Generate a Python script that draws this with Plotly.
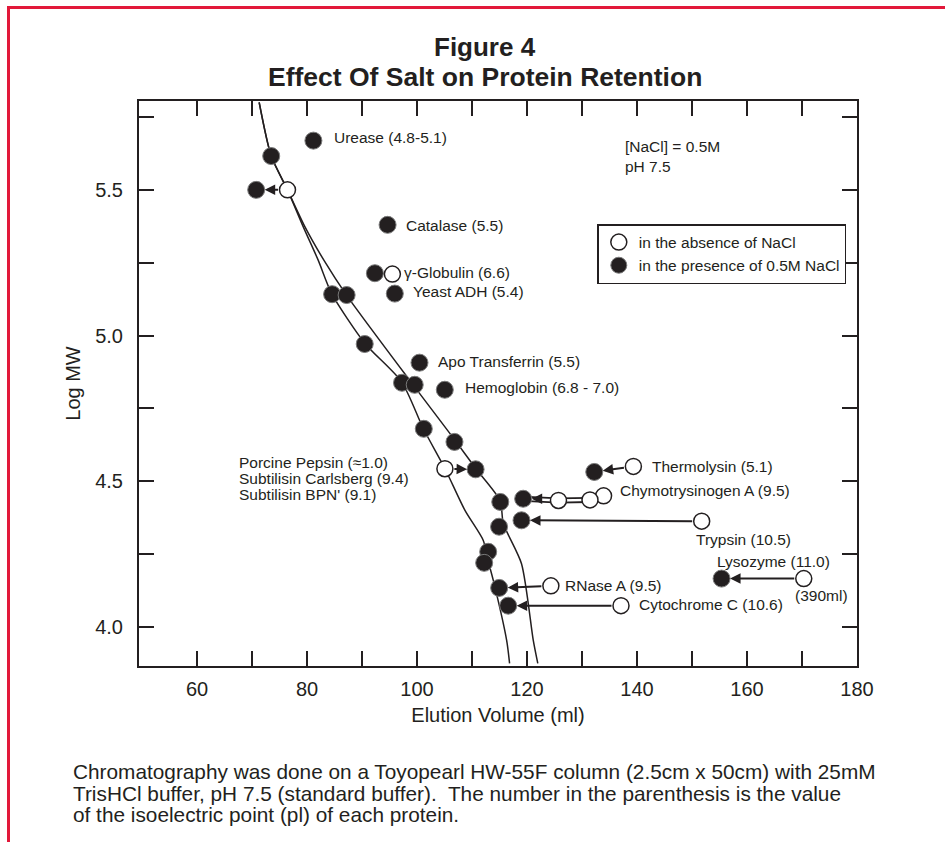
import plotly.graph_objects as go

# ---------------- data ----------------
# Filled circles: in the presence of 0.5M NaCl  (elution volume ml, log MW)
filled_x = [73.49, 70.76, 81.16, 94.65, 92.34, 95.96, 84.56, 87.20, 90.49, 100.45,
            97.27, 99.58, 105.05, 101.23, 106.81, 110.65, 115.14, 119.30, 132.23, 114.92,
            119.00, 112.94, 112.21, 114.94, 116.58, 155.38]
filled_y = [5.616, 5.500, 5.669, 5.380, 5.214, 5.144, 5.142, 5.139, 4.971, 4.907,
            4.838, 4.831, 4.814, 4.680, 4.635, 4.541, 4.429, 4.440, 4.532, 4.344,
            4.366, 4.258, 4.220, 4.134, 4.073, 4.166]

# Open circles: in the absence of NaCl
open_x = [76.45, 95.52, 105.07, 139.34, 125.72, 133.92, 131.45, 151.76, 124.34, 137.09, 170.32]
open_y = [5.500, 5.211, 4.543, 4.551, 4.434, 4.450, 4.436, 4.363, 4.141, 4.073, 4.166]

# Arrows from an open circle (absence) to its filled circle (presence)
arrow_open_idx = [0, 2, 3, 7, 8, 9, 10]
arrow_filled_idx = [1, 15, 18, 20, 23, 24, 25]
# Chymotrysinogen A: double-line chain open -> open -> filled
chymo_open_chain = [6, 4]
chymo_filled_idx = 17

# Calibration curves
left_x = [71.3, 73.49, 76.45, 79.32, 82.05, 84.49, 90.54, 97.21, 101.14, 105.09,
          108.72, 112.05, 112.9, 113.87, 116.3, 116.83]
left_y = [5.800, 5.616, 5.500, 5.373, 5.258, 5.144, 4.973, 4.841, 4.681, 4.543,
          4.400, 4.297, 4.229, 4.160, 3.954, 3.875]
right_x = [71.3, 73.49, 76.45, 79.63, 83.09, 87.21, 99.32, 106.9, 110.72, 115.09,
           115.7, 119.0, 121.14, 121.96]
right_y = [5.800, 5.616, 5.500, 5.373, 5.258, 5.138, 4.830, 4.641, 4.543, 4.434,
           4.355, 4.217, 3.954, 3.875]

# Axis ticks
x_tickvals = [60, 70, 80, 90, 100, 110, 120, 130, 140, 150, 160, 170, 180]
x_ticktext = ["60", "", "80", "", "100", "", "120", "", "140", "", "160", "", "180"]
y_tickvals = [4.0, 4.25, 4.5, 4.75, 5.0, 5.25, 5.5, 5.75]
y_ticktext = ["4.0", "", "4.5", "", "5.0", "", "5.5", ""]

# Protein labels
label_text = ["Urease (4.8-5.1)", "Catalase (5.5)", "γ-Globulin (6.6)", "Yeast ADH (5.4)",
              "Apo Transferrin (5.5)", "Hemoglobin (6.8 - 7.0)",
              "Porcine Pepsin (≈1.0)", "Subtilisin Carlsberg (9.4)", "Subtilisin BPN' (9.1)",
              "Thermolysin (5.1)", "Chymotrysinogen A (9.5)", "Trypsin (10.5)",
              "Lysozyme (11.0)", "(390ml)", "RNase A (9.5)", "Cytochrome C (10.6)",
              "[NaCl] = 0.5M<br>pH 7.5"]

# ---------------- layout constants ----------------
FONT = "Liberation Sans, Arial, Helvetica, sans-serif"
INK = "#231f20"
label_pos = [(84.49, 5.680), (97.69, 5.378), (97.21, 5.218), (98.90, 5.152),
             (103.45, 4.912), (108.30, 4.823),
             (67.32, 4.564), (67.32, 4.509), (67.32, 4.454),
             (142.35, 4.551), (136.49, 4.467), (150.41, 4.300),
             (154.23, 4.226), (168.41, 4.109), (126.49, 4.141), (139.94, 4.077),
             (137.40, 5.6145)]

fig = go.Figure()

for cx, cy in ((left_x, left_y), (right_x, right_y)):
    fig.add_trace(go.Scatter(x=cx, y=cy, mode="lines", showlegend=False, hoverinfo="skip",
                             line=dict(color=INK, width=1.5, shape="spline", smoothing=0.7)))

# double line for Chymotrysinogen A
chain_x = [open_x[i] for i in chymo_open_chain] + [filled_x[chymo_filled_idx]]
chain_y = [open_y[i] for i in chymo_open_chain] + [filled_y[chymo_filled_idx]]
fig.add_trace(go.Scatter(x=chain_x, y=chain_y, mode="lines", showlegend=False, hoverinfo="skip",
                         line=dict(color=INK, width=6)))
fig.add_trace(go.Scatter(x=chain_x, y=chain_y, mode="lines", showlegend=False, hoverinfo="skip",
                         line=dict(color="white", width=2.4)))

fig.add_trace(go.Scatter(x=filled_x, y=filled_y, mode="markers",
                         name="in the presence of 0.5M NaCl", legendrank=2,
                         marker=dict(size=17, color=INK, line=dict(color="#7a7a7a", width=1))))
fig.add_trace(go.Scatter(x=open_x, y=open_y, mode="markers",
                         name="in the absence of NaCl", legendrank=1,
                         marker=dict(size=16, color="white", line=dict(color=INK, width=1.5))))

for o, f in zip(arrow_open_idx, arrow_filled_idx):
    fig.add_annotation(x=filled_x[f], y=filled_y[f], ax=open_x[o], ay=open_y[o],
                       xref="x", yref="y", axref="x", ayref="y", text="",
                       showarrow=True, arrowhead=2, arrowsize=1.05, arrowwidth=2,
                       arrowcolor=INK, standoff=8.5, startstandoff=8)
fig.add_annotation(x=filled_x[chymo_filled_idx], y=filled_y[chymo_filled_idx], ax=18, ay=0,
                   xref="x", yref="y", text="", showarrow=True, arrowhead=2, arrowsize=1.05,
                   arrowwidth=2, arrowcolor=INK, standoff=8.5)

for t, (lx, ly) in zip(label_text, label_pos):
    fig.add_annotation(x=lx, y=ly, xref="x", yref="y", text=t, showarrow=False,
                       xanchor="left", yanchor="middle", align="left",
                       font=dict(family=FONT, size=15.5, color=INK))

# title
fig.add_annotation(x=0.482, y=1.0961, xref="paper", yref="paper", text="<b>Figure 4</b>",
                   showarrow=False, xanchor="center", yanchor="middle",
                   font=dict(family=FONT, size=26, color=INK))
fig.add_annotation(x=0.482, y=1.043, xref="paper", yref="paper",
                   text="<b>Effect Of Salt on Protein Retention</b>",
                   showarrow=False, xanchor="center", yanchor="middle",
                   font=dict(family=FONT, size=26.5, color=INK))

# caption
caption = ["Chromatography was done on a Toyopearl HW-55F column (2.5cm x 50cm) with 25mM",
           "TrisHCl buffer, pH 7.5 (standard buffer).  The number in the parenthesis is the value",
           "of the isoelectric point (pl) of each protein."]
for line, py in zip(caption, [771.8, 793.2, 814.7]):
    fig.add_annotation(x=(71 - 139) / 718, y=(666 - py) / 565, xref="paper", yref="paper",
                       text=line, showarrow=False, xanchor="left", yanchor="middle",
                       font=dict(family=FONT, size=20.8, color=INK))

# red frame
fig.add_shape(type="rect", xref="paper", yref="paper",
              x0=(8.5 - 139) / 718, x1=1.2, y0=-0.4, y1=(666 - 7.5) / 565,
              line=dict(color="#e2183a", width=3), fillcolor="rgba(0,0,0,0)")

axis_common = dict(ticks="inside", ticklen=15, tickwidth=2, tickcolor=INK,
                   showline=True, linewidth=2, linecolor=INK, mirror="ticks",
                   showgrid=False, zeroline=False, automargin=False,
                   tickfont=dict(family=FONT, size=20, color=INK))

fig.update_layout(
    width=945, height=842,
    margin=dict(l=139, r=88, t=101, b=176, autoexpand=False),
    paper_bgcolor="white", plot_bgcolor="white",
    font=dict(family=FONT, color=INK),
    xaxis=dict(range=[49.45, 180], tickmode="array", tickvals=x_tickvals, ticktext=x_ticktext,
               title=dict(text="Elution Volume (ml)", font=dict(family=FONT, size=20, color=INK),
                          standoff=9),
               ticklabelstandoff=4, **axis_common),
    yaxis=dict(range=[3.866, 5.805], tickmode="array", tickvals=y_tickvals, ticktext=y_ticktext,
               title=dict(text="Log MW", font=dict(family=FONT, size=20, color=INK), standoff=9),
               ticklabelstandoff=10, **axis_common),
    legend=dict(x=(597.3 - 139) / 718, y=(666 - 224) / 565, xanchor="left", yanchor="top",
                bgcolor="white", bordercolor=INK, borderwidth=1.5,
                font=dict(family=FONT, size=15.5, color=INK), itemsizing="trace",
                tracegroupgap=0),
)

fig.write_html("out.html")
